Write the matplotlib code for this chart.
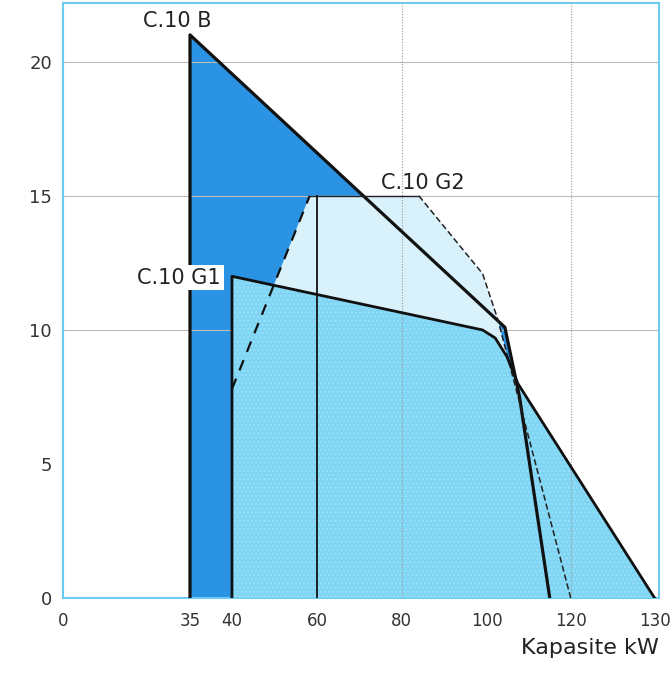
import numpy as np
import matplotlib.pyplot as plt

plt.rcParams['font.family'] = ['DejaVu Sans']

# Kennlinienfelder (kW, y-Wert)
b_x = [35, 35, 104.3, 107.8, 115]
b_y = [0, 21, 10.1, 7.5, 0]

g1_x = [40, 40, 99, 102, 104.8, 107.4, 130]
g1_y = [0, 12, 10.0, 9.7, 9.0, 8.0, 0]

g2_x = [40, 58.3, 84, 99, 102.6, 120]
g2_y = [7.8, 15, 15, 12.1, 10.4, 0]
g2_wall_x = 60

x_ticks = [0, 35, 40, 60, 80, 100, 120, 130]
y_ticks = [0, 5, 10, 15, 20]

# the printed x axis is not linear: relative spacing of the tick marks
scale_kw = [-50, 0, 35, 40, 60, 80, 100, 120, 130, 300]
scale_pos = [-181, 0, 127, 169, 254, 339, 424, 508, 592, 2020]

def fwd(x):
    return np.interp(x, scale_kw, scale_pos)

def inv(p):
    return np.interp(p, scale_pos, scale_kw)

dark_blue = '#2a93e3'
cyan = '#7fd5f4'
pale = '#d8f1fb'
frame = '#6ccbf0'
ink = '#222222'

fig = plt.figure(figsize=(6.71, 6.79), dpi=100)
ax = fig.add_axes([0.094, 0.119, 0.888, 0.877])
ax.set_xscale('function', functions=(fwd, inv))
ax.set_xlim(0, 130.5)
ax.set_ylim(0, 22.2)

# grid
for yv in y_ticks[2:]:
    ax.axhline(yv, color='#bbbbbb', lw=0.8, zorder=1.5)
for xv in [80, 120]:
    ax.axvline(xv, color='#999999', lw=0.8, ls=(0, (1, 1.5)), zorder=6)

# C.10 B
ax.fill(b_x, b_y, color=dark_blue, lw=0, zorder=1)
ax.plot(b_x, b_y, color='#111111', lw=2.3, zorder=7, solid_joinstyle='round')

# C.10 G2
g2_fx = [g2_x[0]] + g2_x + [g2_x[0]]
g2_fy = [0] + g2_y + [0]
ax.fill(g2_fx, g2_fy, color=pale, lw=0, zorder=2)
ax.plot(g2_x[:2], g2_y[:2], color='#111111', lw=1.6, ls=(0, (5, 4)), zorder=7)
ax.plot(g2_x[1:3], g2_y[1:3], color=ink, lw=1.0, zorder=7)
ax.plot(g2_x[2:], g2_y[2:], color=ink, lw=1.1, ls=(0, (4, 2)), zorder=7)
ax.plot([g2_wall_x, g2_wall_x], [0, max(g2_y)], color='#111111', lw=1.3, zorder=7)

# C.10 G1
ax.fill(g1_x, g1_y, facecolor=cyan, edgecolor='#9cdff7', lw=0, hatch='....', zorder=3)
ax.plot(g1_x, g1_y, color='#111111', lw=2.0, zorder=7, solid_joinstyle='round')

# labels
ax.annotate('C.10 B', (b_x[1], b_y[1]), xytext=(-9, 3), textcoords='offset points',
            ha='center', va='bottom', fontsize=15, color=ink, zorder=8)
ax.annotate('C.10 G2', (g2_x[2], g2_y[2]), xytext=(3, 2), textcoords='offset points',
            ha='center', va='bottom', fontsize=15, color=ink, zorder=8)
ax.annotate('C.10 G1', (g1_x[1], g1_y[1]), xytext=(-8, -1), textcoords='offset points',
            ha='right', va='center', fontsize=15, color=ink, zorder=8,
            bbox=dict(facecolor='white', edgecolor='none', pad=2))

ax.set_xticks(x_ticks)
ax.set_xticklabels([str(v) for v in x_ticks])
ax.set_yticks(y_ticks)
ax.tick_params(length=0, labelcolor='#333333')
ax.tick_params(axis='x', pad=10, labelsize=12)
ax.tick_params(axis='y', pad=8, labelsize=13)
ax.set_xlabel('Kapasite kW', loc='right', fontsize=16, color=ink, labelpad=6)

for s in ax.spines.values():
    s.set_color(frame)
    s.set_linewidth(1.5)

fig.savefig('out.png', dpi=100)
